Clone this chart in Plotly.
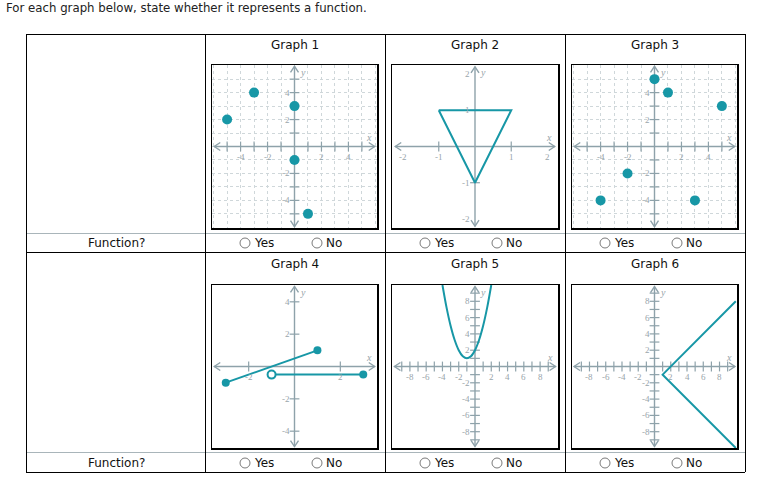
import plotly.graph_objects as go

W, H = 768, 486

# ---------------- data ----------------
graph_titles = ["Graph 1", "Graph 2", "Graph 3", "Graph 4", "Graph 5", "Graph 6"]
row_label = "Function?"
choices = ["Yes", "No"]
title_text = "For each graph below, state whether it represents a function."

g1_x = [-5, -3, 0, 0, 1]
g1_y = [2, 4, 3, -1, -5]

g2_x = [-1, 1, 0, -1]
g2_y = [1, 1, -1, 1]

g3_x = [0, 1, 5, -2, -4, 3]
g3_y = [5, 4, 3, -2, -4, -4]

g4_seg1_x = [-3, 1]
g4_seg1_y = [-1, 1]
g4_seg2_x = [-1, 3]
g4_seg2_y = [-0.5, -0.5]
g4_closed_x = [-3, 1, 3]
g4_closed_y = [-1, 1, -0.5]
g4_open_x = [-1]
g4_open_y = [-0.5]

g5_x = [-4, -3.5, -3, -2.5, -2, -1.5, -1, -0.5, 0, 0.5, 1, 1.5, 2]
g5_y = [10, 7.25, 5, 3.25, 2, 1.25, 1, 1.25, 2, 3.25, 5, 7.25, 10]

g6_x = [10, 1, 10]
g6_y = [8, -1, -10]

# tick marks / tick labels for each coordinate plane
g1_xticks = [-5, -4, -3, -2, -1, 1, 2, 3, 4, 5]
g1_yticks = [-5, -4, -3, -2, -1, 1, 2, 3, 4, 5]
g1_xlabels = [-4, -2, 2, 4]
g1_ylabels = [4, 2, -2, -4]

g2_xticks = [-1, 1]
g2_yticks = [-1, 1]
g2_xlabels = [-2, -1, 1, 2]
g2_ylabels = [2, 1, -1, -2]

g4_xticks = [-2, 2]
g4_yticks = [-4, -2, 2, 4]
g4_xlabels = [-2, 2]
g4_ylabels = [4, 2, -2, -4]

g5_xticks = [-9, -8, -7, -6, -5, -4, -3, -2, -1, 1, 2, 3, 4, 5, 6, 7, 8, 9]
g5_yticks = [-9, -8, -7, -6, -5, -4, -3, -2, -1, 1, 2, 3, 4, 5, 6, 7, 8, 9]
g5_xlabels = [-8, -6, -4, -2, 2, 4, 6, 8]
g5_ylabels = [8, 6, 4, 2, -2, -4, -6, -8]

# ---------------- styling ----------------
TEAL = "#1797a6"
AXC = "#8ea2aa"
LBL = "#98a5aa"
FONT = "DejaVu Sans"
SERIF = "Liberation Serif"


def px(x):
    return x / W


def py(y):
    return 1 - y / H


planes = [
    dict(box=(212, 65, 377, 228), xr=(-6.12, 6.12), yr=(-6.05, 6.05), xe=5.95, ye=5.95,
         xt=g1_xticks, yt=g1_yticks, xl=g1_xlabels, yl=g1_ylabels, grid=True),
    dict(box=(392, 65, 558, 228), xr=(-2.29, 2.29), yr=(-2.25, 2.25), xe=2.2, ye=2.2,
         xt=g2_xticks, yt=g2_yticks, xl=g2_xlabels, yl=g2_ylabels, grid=False),
    dict(box=(572, 65, 737, 228), xr=(-6.12, 6.12), yr=(-6.05, 6.05), xe=5.95, ye=5.95,
         xt=g1_xticks, yt=g1_yticks, xl=g1_xlabels, yl=g1_ylabels, grid=True),
    dict(box=(212, 285, 377, 448), xr=(-3.6, 3.6), yr=(-5.04, 5.04), xe=3.5, ye=4.95,
         xt=g4_xticks, yt=g4_yticks, xl=g4_xlabels, yl=g4_ylabels, grid=False),
    dict(box=(392, 285, 558, 448), xr=(-10.2, 10.2), yr=(-10.0, 10.0), xe=9.9, ye=9.8,
         xt=g5_xticks, yt=g5_yticks, xl=g5_xlabels, yl=g5_ylabels, grid=False),
    dict(box=(572, 285, 737, 448), xr=(-10.15, 10.15), yr=(-10.0, 10.0), xe=9.9, ye=9.8,
         xt=g5_xticks, yt=g5_yticks, xl=g5_xlabels, yl=g5_ylabels, grid=False),
]

fig = go.Figure()
shapes = []
annotations = []
layout_axes = {}

for i, p in enumerate(planes):
    n = i + 1
    xa = "x" if n == 1 else f"x{n}"
    ya = "y" if n == 1 else f"y{n}"
    l, t, r, b = p["box"]
    ax_common = dict(showline=True, mirror=True, linecolor="black", linewidth=1.5,
                     showticklabels=False, ticks="", zeroline=False, fixedrange=True)
    grid = dict(showgrid=True, dtick=1, tick0=0, gridcolor="#cfd7da", griddash="dot",
                gridwidth=1) if p["grid"] else dict(showgrid=False)
    layout_axes[f"xaxis{'' if n == 1 else n}"] = dict(domain=[px(l), px(r)], range=list(p["xr"]),
                                                       anchor=ya, **ax_common, **grid)
    layout_axes[f"yaxis{'' if n == 1 else n}"] = dict(domain=[py(b), py(t)], range=list(p["yr"]),
                                                       anchor=xa, **ax_common, **grid)
    ux = (p["xr"][1] - p["xr"][0]) / (r - l)
    uy = (p["yr"][1] - p["yr"][0]) / (b - t)
    xe, ye = p["xe"], p["ye"]
    line = dict(color=AXC, width=1.4)
    # axes
    shapes.append(dict(type="line", xref=xa, yref=ya, x0=-xe, x1=xe, y0=0, y1=0, line=line, layer="between"))
    shapes.append(dict(type="line", xref=xa, yref=ya, x0=0, x1=0, y0=-ye, y1=ye, line=line, layer="between"))
    a, c = 6, 4
    for s in (1, -1):
        shapes.append(dict(type="path", xref=xa, yref=ya, layer="between", line=line,
                           path=f"M {s*(xe - a*ux)},{c*uy} L {s*xe},0 L {s*(xe - a*ux)},{-c*uy}"))
        shapes.append(dict(type="path", xref=xa, yref=ya, layer="between", line=line,
                           path=f"M {-c*ux},{s*(ye - a*uy)} L 0,{s*ye} L {c*ux},{s*(ye - a*uy)}"))
    # tick marks
    fig.add_trace(go.Scatter(x=p["xt"], y=[0] * len(p["xt"]), mode="markers", xaxis=xa, yaxis=ya,
                             marker=dict(symbol="line-ns-open", size=7, color=AXC,
                                         line=dict(color=AXC, width=1.2)),
                             hoverinfo="skip", showlegend=False))
    fig.add_trace(go.Scatter(x=[0] * len(p["yt"]), y=p["yt"], mode="markers", xaxis=xa, yaxis=ya,
                             marker=dict(symbol="line-ew-open", size=7, color=AXC,
                                         line=dict(color=AXC, width=1.2)),
                             hoverinfo="skip", showlegend=False))
    # tick labels
    for v in p["xl"]:
        annotations.append(dict(x=v, y=0, xref=xa, yref=ya, text=str(v), showarrow=False,
                                xanchor="center", yanchor="middle",
                                yshift=-10, font=dict(family=SERIF, size=9, color=LBL)))
    for v in p["yl"]:
        annotations.append(dict(x=0, y=v, xref=xa, yref=ya, text=str(v), showarrow=False,
                                xanchor="right", yanchor="middle", xshift=-3,
                                font=dict(family=SERIF, size=9, color=LBL)))
    annotations.append(dict(x=xe, y=0, xref=xa, yref=ya, text="<i>x</i>", showarrow=False,
                            xanchor="center", yanchor="middle",
                            xshift=-6, yshift=9, font=dict(family=SERIF, size=10, color=LBL)))
    annotations.append(dict(x=0, y=ye, xref=xa, yref=ya, text="<i>y</i>", showarrow=False,
                            xanchor="center", yanchor="middle",
                            xshift=8, yshift=-6, font=dict(family=SERIF, size=10, color=LBL)))

# ---------------- data traces ----------------
fig.add_trace(go.Scatter(x=g1_x, y=g1_y, mode="markers", xaxis="x", yaxis="y",
                         marker=dict(color=TEAL, size=10), hoverinfo="skip", showlegend=False))
fig.add_trace(go.Scatter(x=g2_x, y=g2_y, mode="lines", xaxis="x2", yaxis="y2",
                         line=dict(color=TEAL, width=2), hoverinfo="skip", showlegend=False))
fig.add_trace(go.Scatter(x=g3_x, y=g3_y, mode="markers", xaxis="x3", yaxis="y3",
                         marker=dict(color=TEAL, size=10), hoverinfo="skip", showlegend=False))
fig.add_trace(go.Scatter(x=g4_seg1_x, y=g4_seg1_y, mode="lines", xaxis="x4", yaxis="y4",
                         line=dict(color=TEAL, width=2), hoverinfo="skip", showlegend=False))
fig.add_trace(go.Scatter(x=g4_seg2_x, y=g4_seg2_y, mode="lines", xaxis="x4", yaxis="y4",
                         line=dict(color=TEAL, width=2), hoverinfo="skip", showlegend=False))
fig.add_trace(go.Scatter(x=g4_closed_x, y=g4_closed_y, mode="markers", xaxis="x4", yaxis="y4",
                         marker=dict(color=TEAL, size=8), hoverinfo="skip", showlegend=False))
fig.add_trace(go.Scatter(x=g4_open_x, y=g4_open_y, mode="markers", xaxis="x4", yaxis="y4",
                         marker=dict(color="white", size=8, line=dict(color=TEAL, width=2)),
                         hoverinfo="skip", showlegend=False))
fig.add_trace(go.Scatter(x=g5_x, y=g5_y, mode="lines", xaxis="x5", yaxis="y5",
                         line=dict(color=TEAL, width=2, shape="spline", smoothing=0.8),
                         hoverinfo="skip", showlegend=False))
fig.add_trace(go.Scatter(x=g6_x, y=g6_y, mode="lines", xaxis="x6", yaxis="y6",
                         line=dict(color=TEAL, width=2), hoverinfo="skip", showlegend=False))

# ---------------- table ----------------
TL, TR, TT, TB = 26, 745, 34, 472
blk = dict(color="black", width=1)
gry = dict(color="#a9b5ba", width=1)


def hline(y, ln, x0=TL, x1=TR):
    shapes.append(dict(type="line", xref="paper", yref="paper", x0=px(x0), x1=px(x1),
                       y0=py(y + 0.5), y1=py(y + 0.5), line=ln, layer="above"))


def vline(x, ln, y0=TT, y1=TB):
    shapes.append(dict(type="line", xref="paper", yref="paper", x0=px(x + 0.5), x1=px(x + 0.5),
                       y0=py(y0), y1=py(y1), line=ln, layer="above"))


def text(x, y, s, anchor="center", size=12, color="#111"):
    annotations.append(dict(x=px(x), y=py(y), xref="paper", yref="paper", text=s,
                            xanchor=anchor, yanchor="middle", showarrow=False,
                            font=dict(family=FONT, size=size, color=color)))


hline(TT, blk)
hline(233, gry)
hline(252, blk)
hline(452, gry)
hline(TB, blk)
for xv in (TL, 205, 385, 565, TR):
    vline(xv, blk)

col_left = [205, 385, 565]
for k, title in enumerate(graph_titles):
    c = col_left[k % 3]
    text(c + 90, 45 if k < 3 else 264, title)

for ry in (243, 463):
    text(116, ry, row_label)
    for c in col_left:
        for j, ch in enumerate(choices):
            cx = c + 40 + 72 * j
            shapes.append(dict(type="circle", xref="paper", yref="paper",
                               x0=px(cx - 5), x1=px(cx + 5), y0=py(ry + 5), y1=py(ry - 5),
                               line=dict(color="#7a7a7a", width=1), fillcolor="white", layer="above"))
            text(cx + 7, ry, ch, anchor="left")

text(4, 8, title_text, anchor="left", size=11.75, color="#222")

fig.update_layout(width=W, height=H, margin=dict(l=0, r=0, t=0, b=0), autosize=False,
                  paper_bgcolor="white", plot_bgcolor="white", hovermode=False,
                  shapes=shapes, annotations=annotations, **layout_axes)

fig.write_html("out.html", config={"displayModeBar": False, "staticPlot": True},
               post_script="document.body.style.margin='0';document.body.style.overflow='hidden';")
